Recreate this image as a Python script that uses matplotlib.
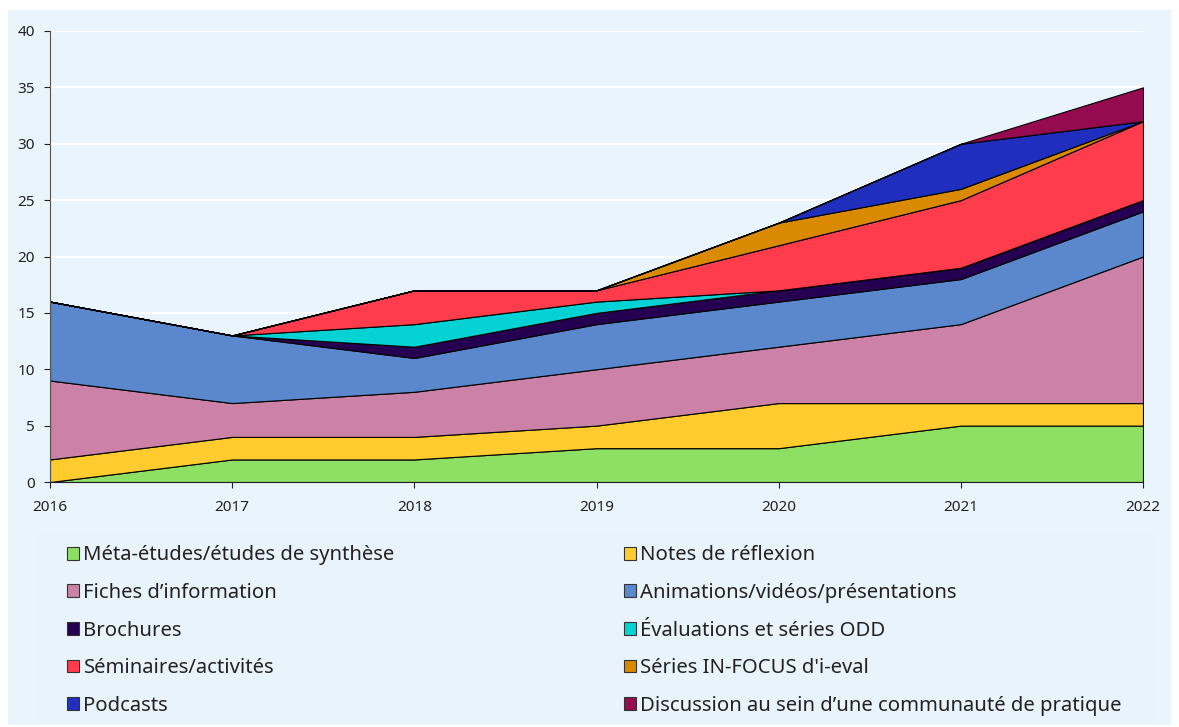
import numpy as np
import matplotlib
matplotlib.use("Agg")
import matplotlib.pyplot as plt
from matplotlib.patches import Rectangle, Patch

plt.rcParams['font.family'] = ['Noto Sans', 'DejaVu Sans']

# data
years = [2016, 2017, 2018, 2019, 2020, 2021, 2022]
labels = ["Méta-études/études de synthèse", "Notes de réflexion",
          "Fiches d’information", "Animations/vidéos/présentations",
          "Brochures", "Évaluations et séries ODD",
          "Séminaires/activités", "Séries IN-FOCUS d'i-eval",
          "Podcasts", "Discussion au sein d’une communauté de pratique"]
meta = [0, 2, 2, 3, 3, 5, 5]
notes = [2, 2, 2, 2, 4, 2, 2]
fiches = [7, 3, 4, 5, 5, 7, 13]
anim = [7, 6, 3, 4, 4, 4, 4]
brochures = [0, 0, 1, 1, 1, 1, 1]
evals = [0, 0, 2, 1, 0, 0, 0]
seminaires = [0, 0, 3, 1, 4, 6, 7]
infocus = [0, 0, 0, 0, 2, 1, 0]
podcasts = [0, 0, 0, 0, 0, 4, 0]
discussion = [0, 0, 0, 0, 0, 0, 3]
colors = ["#8DE063", "#FFCB2E", "#CB82A6", "#5B87CC", "#260050",
          "#05D2D2", "#FF3C4C", "#D98A00", "#1F2EBC", "#960A50"]

series = [meta, notes, fiches, anim, brochures, evals, seminaires,
          infocus, podcasts, discussion]

bg = "#EAF4FC"
fig = plt.figure(figsize=(11.79, 7.27), dpi=100)
fig.patch.set_facecolor("white")
fig.patches.append(Rectangle((8 / 1179, 1 - 725 / 727), 1163 / 1179, 715 / 727,
                             transform=fig.transFigure, facecolor=bg,
                             edgecolor="none", zorder=-2))
fig.patches.append(Rectangle((38 / 1179, 1 - 722 / 727), 1117 / 1179, 189 / 727,
                             transform=fig.transFigure, facecolor="#E8F3FC",
                             edgecolor="none", zorder=-1))

ax = fig.add_axes([50 / 1179, 1 - 482 / 727, 1093 / 1179, 451 / 727])
ax.set_facecolor(bg)
ax.stackplot(years, *series, colors=colors, edgecolor="black", linewidth=0.8)

ax.set_xlim(2016, 2022)
ax.set_ylim(0, 40)
ax.set_yticks(np.arange(0, 41, 5))
ax.set_xticks(years)
ax.grid(axis="y", color="white", linewidth=1.2)
ax.set_axisbelow(True)
for s in ["top", "right"]:
    ax.spines[s].set_visible(False)
ax.spines["left"].set_color("#555555")
ax.spines["bottom"].set_color("#222222")
ax.tick_params(axis="both", labelsize=11, colors="#222222", length=4)
ax.tick_params(axis="x", pad=9)
ax.tick_params(axis="y", pad=7)

handles = [Patch(facecolor=c, edgecolor="#333333", linewidth=0.8) for c in colors]
order = [0, 2, 4, 6, 8, 1, 3, 5, 7, 9]
fig.legend([handles[i] for i in order], [labels[i] for i in order],
           ncol=2, loc="upper left", bbox_to_anchor=(49 / 1179, 1 - 527 / 727),
           frameon=False, fontsize=14.6, handlelength=0.6, handleheight=0.6,
           handletextpad=0.2, labelspacing=0.87, columnspacing=11.3,
           labelcolor="#222222")

fig.savefig("out.png", dpi=100, facecolor=fig.get_facecolor())
